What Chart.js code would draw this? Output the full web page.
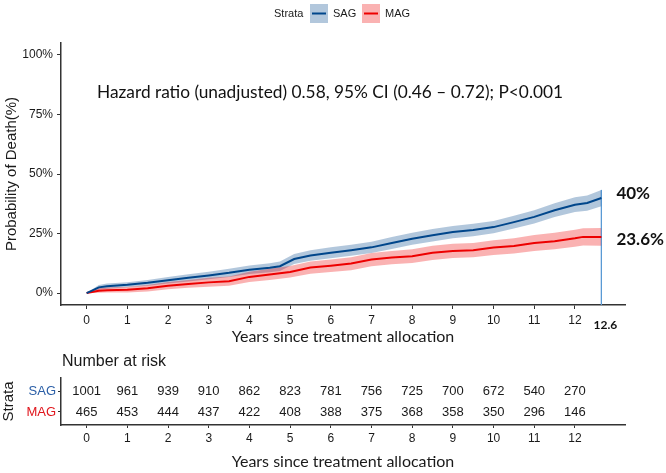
<!DOCTYPE html>
<html>
<head>
<meta charset="utf-8">
<script src="https://cdn.jsdelivr.net/npm/chart.js@4.4.1/dist/chart.umd.min.js"></script>
<style>
html, body { margin: 0; padding: 0; background: #fff; }
#wrap { position: relative; width: 666px; height: 473px; }
#main { position: absolute; left: 0; top: 0; }
#risk { position: absolute; left: 0; top: 350px; }
</style>
</head>
<body>
<div id="wrap">
  <canvas id="main" width="666" height="350" style="width:666px;height:350px"></canvas>
  <canvas id="risk" width="666" height="123" style="width:666px;height:123px"></canvas>
</div>
<script>
// cumulative probability of death (%)
let sagTimes = [0, 0.3, 0.5, 1, 1.5, 2, 2.5, 3, 3.5, 4, 4.5, 4.75, 5.1, 5.5, 6, 6.5, 7, 7.5, 8, 8.5, 9, 9.5, 10, 10.5, 11, 11.5, 12, 12.3, 12.65];
let sagEst   = [0, 2.4, 2.9, 3.5, 4.3, 5.4, 6.4, 7.4, 8.5, 9.8, 10.6, 11.3, 14.3, 15.8, 16.9, 18.0, 19.2, 21.0, 22.8, 24.3, 25.6, 26.5, 27.7, 29.8, 32.0, 34.8, 37.1, 37.8, 39.9];
let sagUpper = [0, 3.4, 4.0, 4.6, 5.5, 6.8, 7.9, 9.0, 10.2, 11.6, 12.5, 13.3, 16.4, 18.0, 19.2, 20.3, 21.6, 23.5, 25.3, 26.9, 28.2, 29.1, 30.3, 32.5, 34.8, 37.7, 40.2, 41.0, 43.3];
let sagLower = [0, 1.4, 1.8, 2.4, 3.1, 4.0, 4.9, 5.8, 6.8, 8.0, 8.7, 9.3, 12.2, 13.6, 14.6, 15.7, 16.8, 18.5, 20.3, 21.7, 23.0, 23.9, 25.1, 27.1, 29.2, 31.9, 34.0, 34.6, 36.5];

let magTimes = [0, 0.3, 0.5, 1, 1.5, 2, 2.5, 3, 3.5, 4, 4.5, 5, 5.5, 6, 6.5, 7, 7.5, 8, 8.5, 9, 9.5, 10, 10.5, 11, 11.5, 12, 12.2, 12.65];
let magEst   = [0, 1.0, 1.2, 1.4, 2.0, 3.1, 3.8, 4.5, 5.0, 6.8, 7.8, 8.9, 10.7, 11.5, 12.4, 14.1, 14.9, 15.5, 16.9, 17.7, 18.0, 19.1, 19.8, 21.0, 21.8, 23.0, 23.6, 23.6];
let magUpper = [0, 2.0, 2.3, 2.6, 3.4, 4.7, 5.5, 6.4, 7.0, 9.0, 10.2, 11.4, 13.3, 14.1, 15.0, 16.8, 17.7, 18.4, 19.9, 20.7, 21.0, 22.2, 23.0, 24.4, 25.3, 26.6, 27.2, 27.3];
let magLower = [0, 0.1, 0.2, 0.3, 0.7, 1.6, 2.2, 2.7, 3.1, 4.7, 5.5, 6.5, 8.1, 8.9, 9.6, 11.3, 12.1, 12.6, 13.9, 14.7, 15.0, 16.0, 16.6, 17.7, 18.4, 19.5, 20.0, 19.9];

let cutoff = 12.65;
let cutoffLabel = "12.6";
let endLabels = ["40%", "23.6%"];
let yearTicks = [0, 1, 2, 3, 4, 5, 6, 7, 8, 9, 10, 11, 12];
let pctTicks = [0, 25, 50, 75, 100];

// number at risk table
let riskTimes = [0, 1, 2, 3, 4, 5, 6, 7, 8, 9, 10, 11, 12];
let sagRisk = [1001, 961, 939, 910, 862, 823, 781, 756, 725, 700, 672, 540, 270];
let magRisk = [465, 453, 444, 437, 422, 408, 388, 375, 368, 358, 350, 296, 146];

let hazardText = "Hazard ratio (unadjusted) 0.58, 95% CI (0.46 \u2013 0.72); P<0.001";

const sans = "'Liberation Sans', Arial, sans-serif";
const office = "Lato, 'Open Sans', sans-serif";
const sagColor = "#00468B", magColor = "#ED0000";
const sagBand = "rgba(0,70,139,0.3)", magBand = "rgba(237,0,0,0.3)";

function pts(xs, ys) {
    return xs.map((x, i) => ({x: x, y: ys[i]}));
}

const mainDecor = {
    id: "mainDecor",
    afterDraw(chart) {
        const ctx = chart.ctx;
        const xs = chart.scales.x, ys = chart.scales.y;
        ctx.save();
        // legend
        ctx.textBaseline = "middle";
        ctx.fillStyle = "#1a1a1a";
        ctx.font = `11px ${sans}`;
        ctx.textAlign = "left";
        ctx.fillText("Strata", 274, 14);
        [[310, sagBand, sagColor, "SAG", 333], [362, magBand, magColor, "MAG", 385]].forEach(item => {
            ctx.fillStyle = item[1];
            ctx.fillRect(item[0], 4, 18, 19);
            ctx.strokeStyle = item[2];
            ctx.lineWidth = 2;
            ctx.beginPath();
            ctx.moveTo(item[0] + 2, 13.5);
            ctx.lineTo(item[0] + 16, 13.5);
            ctx.stroke();
            ctx.fillStyle = "#1a1a1a";
            ctx.fillText(item[3], item[4], 14);
        });
        // hazard ratio note
        ctx.font = `17.3px ${office}`;
        ctx.fillStyle = "#111";
        ctx.fillText(hazardText, 97, 92);
        // end labels
        let xEnd = xs.getPixelForValue(cutoff);
        ctx.font = `bold 17px ${office}`;
        ctx.fillText(endLabels[0], xEnd + 15, ys.getPixelForValue(sagEst[sagEst.length - 1]) - 5);
        ctx.fillText(endLabels[1], xEnd + 15, ys.getPixelForValue(magEst[magEst.length - 1]) + 2.5);
        ctx.font = `bold 12px ${office}`;
        ctx.textAlign = "center";
        ctx.fillText(cutoffLabel, xEnd + 4, 325);
        ctx.restore();
    }
};

new Chart(document.getElementById("main"), {
    type: "line",
    data: {
        datasets: [
            {label: "SAG", data: pts(sagTimes, sagEst), borderColor: sagColor, borderWidth: 2, pointRadius: 0, fill: false, order: 0},
            {label: "MAG", data: pts(magTimes, magEst), borderColor: magColor, borderWidth: 2, pointRadius: 0, fill: false, order: 0},
            {label: "SAG upper", data: pts(sagTimes, sagUpper), borderColor: "transparent", pointRadius: 0, fill: "+1", backgroundColor: sagBand, order: 2},
            {label: "SAG lower", data: pts(sagTimes, sagLower), borderColor: "transparent", pointRadius: 0, fill: false, order: 2},
            {label: "MAG upper", data: pts(magTimes, magUpper), borderColor: "transparent", pointRadius: 0, fill: "+1", backgroundColor: magBand, order: 1},
            {label: "MAG lower", data: pts(magTimes, magLower), borderColor: "transparent", pointRadius: 0, fill: false, order: 1},
            {label: "cut", data: [{x: cutoff, y: sagUpper[sagUpper.length - 1]}, {x: cutoff, y: -5}], borderColor: "#5B9BD5", borderWidth: 1, pointRadius: 0, fill: false, order: 3}
        ]
    },
    options: {
        responsive: false,
        animation: false,
        layout: {padding: {top: 43, right: 41, left: 0, bottom: 0}},
        plugins: {legend: {display: false}, tooltip: {enabled: false}},
        scales: {
            x: {
                type: "linear", min: -0.63, max: 13.23,
                afterBuildTicks: s => { s.ticks = yearTicks.map(v => ({value: v})); },
                afterFit: s => { s.height = 45; },
                grid: {drawOnChartArea: false, drawTicks: true, tickLength: 4, tickColor: "#333", tickWidth: 1},
                border: {display: true, color: "#333", width: 1.5},
                ticks: {font: {family: sans, size: 12}, color: "#1a1a1a", padding: 4, maxRotation: 0, autoSkip: false},
                title: {display: true, text: "Years since treatment allocation", font: {family: office, size: 16}, color: "#1a1a1a", padding: {top: 0, bottom: 4}}
            },
            y: {
                min: -5, max: 105,
                afterBuildTicks: s => { s.ticks = pctTicks.map(v => ({value: v})); },
                afterFit: s => { s.width = 61; },
                grid: {drawOnChartArea: false, drawTicks: true, tickLength: 4, tickColor: "#333", tickWidth: 1},
                border: {display: true, color: "#333", width: 1.5},
                ticks: {font: {family: sans, size: 12}, color: "#1a1a1a", padding: 4, callback: v => v + "%"},
                title: {display: true, text: "Probability of Death(%)", font: {family: sans, size: 15}, color: "#1a1a1a", padding: {top: 3, bottom: 0}}
            }
        }
    },
    plugins: [mainDecor]
});

const riskText = {
    id: "riskText",
    afterDatasetsDraw(chart) {
        const ctx = chart.ctx;
        ctx.save();
        ctx.font = `13px ${sans}`;
        ctx.fillStyle = "#1a1a1a";
        ctx.textAlign = "center";
        ctx.textBaseline = "middle";
        chart.data.datasets.forEach((ds, i) => {
            chart.getDatasetMeta(i).data.forEach((el, j) => {
                ctx.fillText(String(ds.risk[j]), el.x, el.y);
            });
        });
        ctx.font = `16px ${sans}`;
        ctx.textAlign = "left";
        ctx.fillText("Number at risk", chart.chartArea.left + 1, 12);
        ctx.restore();
    }
};

new Chart(document.getElementById("risk"), {
    type: "scatter",
    data: {
        datasets: [
            {label: "SAG", data: riskTimes.map(t => ({x: t, y: 1})), risk: sagRisk, pointRadius: 0},
            {label: "MAG", data: riskTimes.map(t => ({x: t, y: 0})), risk: magRisk, pointRadius: 0}
        ]
    },
    options: {
        responsive: false,
        animation: false,
        layout: {padding: {top: 28, right: 41, left: 0, bottom: 0}},
        plugins: {legend: {display: false}, tooltip: {enabled: false}},
        scales: {
            x: {
                type: "linear", min: -0.63, max: 13.23,
                afterBuildTicks: s => { s.ticks = riskTimes.map(v => ({value: v})); },
                afterFit: s => { s.height = 48; },
                grid: {drawOnChartArea: false, drawTicks: true, tickLength: 3, tickColor: "#333", tickWidth: 1},
                border: {display: true, color: "#333", width: 1.5},
                ticks: {font: {family: sans, size: 12}, color: "#1a1a1a", padding: 3, maxRotation: 0, autoSkip: false},
                title: {display: true, text: "Years since treatment allocation", font: {family: office, size: 16}, color: "#1a1a1a", padding: {top: 0, bottom: 2}}
            },
            y: {
                min: -0.62, max: 1.62,
                afterBuildTicks: s => { s.ticks = [{value: 0}, {value: 1}]; },
                afterFit: s => { s.width = 61; },
                grid: {drawOnChartArea: false, drawTicks: true, tickLength: 3, tickColor: "#333", tickWidth: 1},
                border: {display: true, color: "#333", width: 1.5},
                ticks: {
                    font: {family: sans, size: 13},
                    color: c => c.tick.value === 1 ? "#2a5ea6" : "#e0141b",
                    padding: 2,
                    callback: v => v === 1 ? "SAG" : "MAG"
                },
                title: {display: true, text: "Strata", font: {family: sans, size: 15, lineHeight: 1}, color: "#1a1a1a", padding: {top: 1.5, bottom: 0}}
            }
        }
    },
    plugins: [riskText]
});
</script>
</body>
</html>
